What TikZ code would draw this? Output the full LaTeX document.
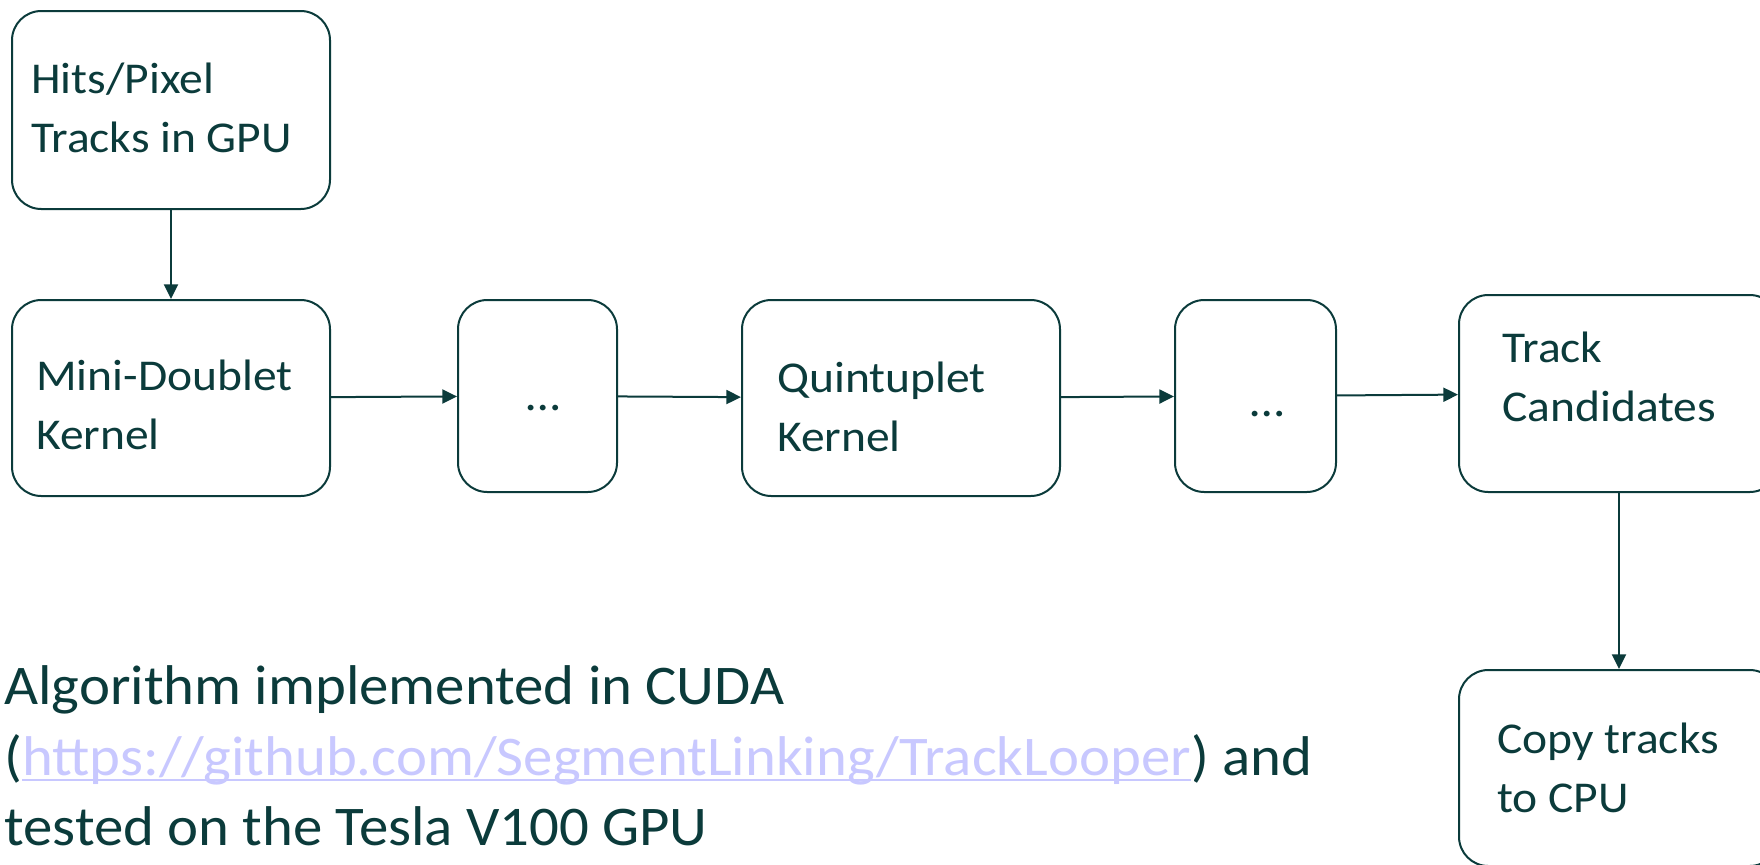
\documentclass[tikz,border=0pt]{standalone}
\usepackage{fontspec}
\setmainfont{Carlito}
\usetikzlibrary{arrows.meta,fit}
\definecolor{ink}{HTML}{0B3B3B}
\definecolor{linkc}{HTML}{C8C8FF}
\newsavebox\myulbox
\newcommand\myul[1]{\sbox\myulbox{#1}\rlap{\rule[-4.5pt]{\wd\myulbox}{1.8pt}}\usebox\myulbox}
\begin{document}
\begin{tikzpicture}[x=0.75pt,y=-0.75pt,
  box/.style={draw=ink, line width=1.5pt, rounded corners=22pt, inner sep=0pt},
  dots/.style={text=ink, font=\fontsize{35}{44.25}\selectfont\addfontfeatures{FakeStretch=1.05}},
  lbl/.style={text=ink, font=\fontsize{33}{44.25}\selectfont\addfontfeatures{FakeStretch=1.08}, align=left, anchor=west, inner sep=0pt},
  note/.style={text=ink, font=\fontsize{42}{52.9}\selectfont\addfontfeatures{FakeStretch=1.05}, align=left, anchor=west, inner sep=0pt},
  arr/.style={draw=ink, line width=1.5pt, -{Triangle[length=11pt,width=10.5pt]}}]
\useasboundingbox (0,0) rectangle (1760,864);
\clip (0,0) rectangle (1760,864);
% boxes
\node[box, fit={(12,11) (330,209)}] (b1) {};
\node[box, fit={(12,300) (330,496)}] (b2) {};
\node[box, dots, fit={(458,300) (617,492)}] (b3) {\hspace*{8.4pt}\raisebox{-10.9pt}[0pt][0pt]{…}};
\node[box, fit={(742,300) (1060,496)}] (b4) {};
\node[box, dots, fit={(1175,300) (1336,492)}] (b5) {\hspace*{18.4pt}\raisebox{-15.4pt}[0pt][0pt]{…}};
\node[box, fit={(1459,295) (1779,492)}] (b6) {};
\node[box, fit={(1459,670) (1779,866)}] (b7) {};
% labels
\node[lbl] (t1) at (31,108) {Hits/Pixel\\Tracks in GPU};
\node[lbl] (t2) at (36,405) {Mini-Doublet\\Kernel};
\node[lbl] (t4) at (777,407) {Quintuplet\\Kernel};
\node[lbl] (t6) at (1502,377) {Track\\Candidates};
\node[lbl] (t7) at (1497,768) {Copy tracks\\to CPU};
% connectors
\draw[arr] (b1) -- (b2);
\draw[arr] (b2) -- (b3);
\draw[arr] (b3) -- (b4);
\draw[arr] (b4) -- (b5);
\draw[arr] (b5) -- (b6);
\draw[arr] (b6) -- (b7);
% note
\node[note] (n) at (4,756) {Algorithm implemented in CUDA\\(\textcolor{linkc}{\myul{https://github.com/SegmentLinking/TrackLooper}}) and\\tested on the Tesla V100 GPU};
\end{tikzpicture}
\end{document}
